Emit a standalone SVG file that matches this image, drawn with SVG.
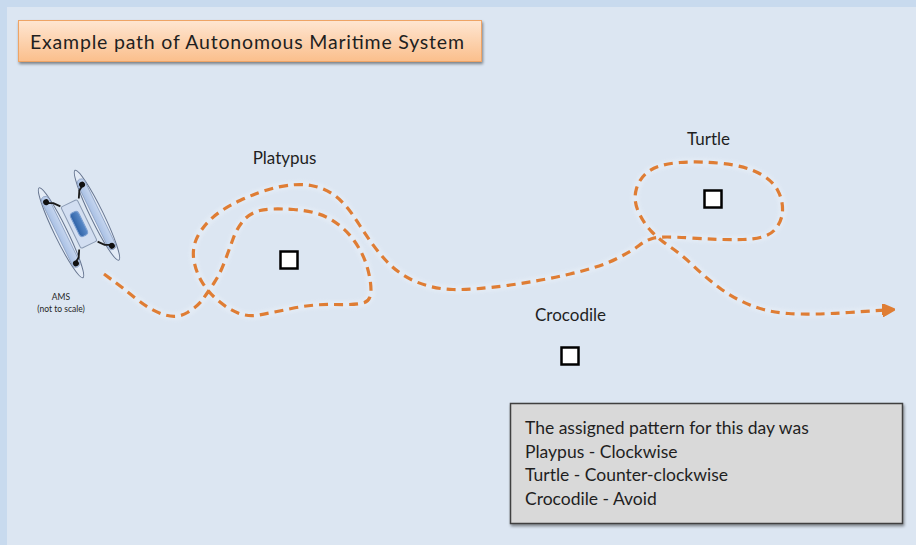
<svg xmlns="http://www.w3.org/2000/svg" width="916" height="545" viewBox="0 0 916 545">
  <style>
    .lbl { font-family: Lato, "Open Sans", "Liberation Sans", sans-serif; fill: #1f1f1f; }
    .mark { fill: #ffffff; stroke: #000000; stroke-width: 2.5; }
    .route { fill: none; stroke: #df7d34; stroke-width: 3.2; stroke-dasharray: 9 6; stroke-linecap: butt; }
    .halo { fill: none; stroke: #f3f7fc; stroke-width: 8; opacity: 0.3; }
    .arm { fill: none; stroke: #1a1a1a; stroke-width: 1.8; stroke-linejoin: round; }
  </style>
  <defs>
    <linearGradient id="titleFill" x1="0" y1="0" x2="0" y2="1">
      <stop offset="0" stop-color="#fee6d2"/>
      <stop offset="1" stop-color="#fbbf8c"/>
    </linearGradient>
    <linearGradient id="hullFill" x1="0" y1="0" x2="1" y2="0">
      <stop offset="0" stop-color="#a9c0e4"/>
      <stop offset="1" stop-color="#c6d6ef"/>
    </linearGradient>
    <linearGradient id="podFill" x1="0" y1="0" x2="1" y2="0">
      <stop offset="0" stop-color="#2f62a6"/>
      <stop offset="1" stop-color="#5b8bc9"/>
    </linearGradient>
    <filter id="shadow" x="-5%" y="-10%" width="110%" height="130%">
      <feGaussianBlur in="SourceAlpha" stdDeviation="1.5"/>
      <feOffset dx="1" dy="2" result="off"/>
      <feComponentTransfer><feFuncA type="linear" slope="0.45"/></feComponentTransfer>
      <feMerge><feMergeNode/><feMergeNode in="SourceGraphic"/></feMerge>
    </filter>
    <filter id="soft" x="-5%" y="-5%" width="110%" height="110%">
      <feGaussianBlur stdDeviation="1.6"/>
    </filter>
    <marker id="head" viewBox="0 0 10 10" refX="3" refY="5" markerWidth="4" markerHeight="4" orient="auto" markerUnits="strokeWidth">
      <path d="M0,0 L10,5 L0,10 Z" fill="#df7d34" stroke="#df7d34" stroke-width="1.5" stroke-linejoin="round"/>
    </marker>
  </defs>

  <!-- frame and panel -->
  <rect x="0" y="0" width="916" height="545" fill="#c8daee"/>
  <rect x="7" y="7" width="909" height="538" fill="#dce6f2"/>

  <!-- title -->
  <g id="title">
    <rect x="18.5" y="20.5" width="463" height="41" fill="url(#titleFill)" stroke="#eea466" stroke-width="1" filter="url(#shadow)"/>
    <text class="lbl" x="30" y="49" font-size="19.5" textLength="434">Example path of Autonomous Maritime System</text>
  </g>

  <!-- vessel path -->
  <g id="connectors">
    <path class="halo" filter="url(#soft)" d="M104,274 L113.5,281 Q123,288 136.5,299 Q150,310 163.5,314.5 Q177,319 187.5,312.5 Q198,306 203,299 Q208,292 214,283 Q220,274 224.5,262 Q229,250 233,239 Q237,228 243.5,220.5 Q250,213 260,210.5 Q270,208 293.5,209.5 Q317,211 331,219.5 Q345,228 354,240.5 Q363,253 367,266.5 Q371,280 371,290.5 Q371,301 363,303 Q355,305 334,304.5 Q313,304 291.5,308.5 Q270,313 259,315 Q248,317 238,313 Q228,309 218,300.5 Q208,292 202,282 Q196,272 194,261 Q192,250 196,240 Q200,230 210,220 Q220,210 240,200.5 Q260,191 278.5,187 Q297,183 311,185.5 Q325,188 336,196.5 Q347,205 359.5,225 Q372,245 385,259.5 Q398,274 415.5,281.5 Q433,289 453,289.5 Q473,290 506.5,285.5 Q540,281 570,274 Q600,267 616,259 Q632,251 639,245.5 Q646,240 654,238 Q662,236 691,238 Q720,240 743,239.5 Q766,239 774,230.5 Q782,222 782.5,211 Q783,200 777.5,190 Q772,180 758.5,173 Q745,166 722.5,163.5 Q700,161 680,162.5 Q660,164 650,170.5 Q640,177 636.5,188.5 Q633,200 638.5,212 Q644,224 652,232 Q660,240 671,247.5 Q682,255 693.5,266 Q705,277 719,287.5 Q733,298 750,305 Q767,312 788.5,313.5 Q810,315 849,312.5 L886,310"/>
    <path id="route" class="route" marker-end="url(#head)" d="M104,274 L113.5,281 Q123,288 136.5,299 Q150,310 163.5,314.5 Q177,319 187.5,312.5 Q198,306 203,299 Q208,292 214,283 Q220,274 224.5,262 Q229,250 233,239 Q237,228 243.5,220.5 Q250,213 260,210.5 Q270,208 293.5,209.5 Q317,211 331,219.5 Q345,228 354,240.5 Q363,253 367,266.5 Q371,280 371,290.5 Q371,301 363,303 Q355,305 334,304.5 Q313,304 291.5,308.5 Q270,313 259,315 Q248,317 238,313 Q228,309 218,300.5 Q208,292 202,282 Q196,272 194,261 Q192,250 196,240 Q200,230 210,220 Q220,210 240,200.5 Q260,191 278.5,187 Q297,183 311,185.5 Q325,188 336,196.5 Q347,205 359.5,225 Q372,245 385,259.5 Q398,274 415.5,281.5 Q433,289 453,289.5 Q473,290 506.5,285.5 Q540,281 570,274 Q600,267 616,259 Q632,251 639,245.5 Q646,240 654,238 Q662,236 691,238 Q720,240 743,239.5 Q766,239 774,230.5 Q782,222 782.5,211 Q783,200 777.5,190 Q772,180 758.5,173 Q745,166 722.5,163.5 Q700,161 680,162.5 Q660,164 650,170.5 Q640,177 636.5,188.5 Q633,200 638.5,212 Q644,224 652,232 Q660,240 671,247.5 Q682,255 693.5,266 Q705,277 719,287.5 Q733,298 750,305 Q767,312 788.5,313.5 Q810,315 849,312.5 L886,310"/>
  </g>

  <!-- autonomous vessel (catamaran, seen from above) -->
  <g id="ams">
    <g transform="translate(79,224) rotate(-26)">
      <ellipse cx="-20" cy="0" rx="6.5" ry="50" fill="#e3ebf6" stroke="#65748f" stroke-width="1"/>
      <rect x="-24" y="-40" width="8" height="78" rx="4" fill="url(#hullFill)" stroke="#8da2c4" stroke-width="0.8"/>
      <ellipse cx="20" cy="0" rx="6.5" ry="50" fill="#e3ebf6" stroke="#65748f" stroke-width="1"/>
      <rect x="16" y="-40" width="8" height="78" rx="4" fill="url(#hullFill)" stroke="#8da2c4" stroke-width="0.8"/>
      <rect x="-9" y="-23" width="18" height="46" rx="2" fill="#d2def1" stroke="#8a9ab3" stroke-width="1"/>
      <rect x="-4.5" y="-13" width="9" height="26" rx="3.5" fill="url(#podFill)" stroke="#7c9fd0" stroke-width="1"/>
      <path class="arm" d="M-20,-33 L-14,-30 L-9,-24"/>
      <path class="arm" d="M20,-33 L15,-30 L11,-23"/>
      <path class="arm" d="M20,33 L14,30 L9,24"/>
      <path class="arm" d="M-20,33 L-15,30 L-11,23"/>
      <circle cx="-20" cy="-34" r="3" fill="#111"/>
      <circle cx="20" cy="-34" r="3" fill="#111"/>
      <circle cx="20" cy="34" r="3" fill="#111"/>
      <circle cx="-20" cy="34" r="3" fill="#111"/>
    </g>
    <text class="lbl" x="61" y="300" font-size="8.5" text-anchor="middle" fill="#333">AMS</text>
    <text class="lbl" x="61" y="312" font-size="8.5" text-anchor="middle" fill="#333">(not to scale)</text>
  </g>

  <!-- waypoints -->
  <g id="platypus">
    <text class="lbl" x="284.5" y="164" font-size="17" text-anchor="middle">Platypus</text>
    <rect class="mark" x="280.5" y="251.5" width="17" height="17"/>
  </g>
  <g id="turtle">
    <text class="lbl" x="708.5" y="145" font-size="17" text-anchor="middle">Turtle</text>
    <rect class="mark" x="704.5" y="190.5" width="17" height="17"/>
  </g>
  <g id="crocodile">
    <text class="lbl" x="570.5" y="321" font-size="17" text-anchor="middle">Crocodile</text>
    <rect class="mark" x="561.5" y="347.5" width="17" height="17"/>
  </g>

  <!-- notes box -->
  <g id="notes">
    <rect x="510.5" y="403.5" width="392" height="120" fill="#d9d9d9" stroke="#3f3f3f" stroke-width="1.5" filter="url(#shadow)"/>
    <text class="lbl" x="525" y="434" font-size="17.5">The assigned pattern for this day was</text>
    <text class="lbl" x="525" y="458" font-size="17.5">Playpus - Clockwise</text>
    <text class="lbl" x="525" y="481" font-size="17.5">Turtle - Counter-clockwise</text>
    <text class="lbl" x="525" y="505" font-size="17.5">Crocodile - Avoid</text>
  </g>
</svg>
